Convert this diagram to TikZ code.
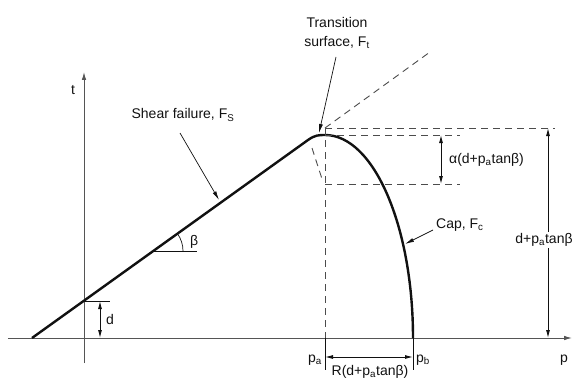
\documentclass[tikz,border=0pt]{standalone}
\usepackage{fontspec}
\setmainfont{Liberation Sans}
\usetikzlibrary{arrows.meta,calc,positioning}
\definecolor{ink}{HTML}{111111}
\definecolor{axisgray}{HTML}{555555}
\tikzset{
  font=\fontsize{14}{19}\selectfont,
  axis/.style={line width=.9pt,draw=axisgray,-{Latex[length=8pt,width=4.5pt]}},
  surface/.style={line width=2.4pt,draw=ink,line join=round},
  guide/.style={dash pattern=on 7pt off 5pt,line width=.9pt,draw=ink!75},
  dim/.style={{Latex[length=8pt,width=4pt]}-{Latex[length=8pt,width=4pt]},line width=.9pt,draw=ink},
  leader/.style={-{Latex[length=9pt,width=4pt]},line width=.7pt,draw=ink},
  tick/.style={line width=.7pt,draw=ink},
  lbl/.style={inner sep=1pt,text=ink}
}
\begin{document}
\begin{tikzpicture}[x=1pt,y=1pt]
\useasboundingbox (-84,-43) rectangle (489,338);
% axes
\coordinate (pleft) at (-76,0);
\coordinate (pright) at (488,0);
\coordinate (tlow) at (0,-25);
\coordinate (thigh) at (0,266);
\draw[axis] (pleft) -- (pright);
\draw[axis] (tlow) -- (thigh);
\node[lbl] (tlab) at (-11,248) {t};
\node[lbl] (plab) at (480,-22) {p};

% shear line + cap
\coordinate (S0) at (-52,0);
\coordinate (S1) at (224,198);
\coordinate (capTop) at (241,203);
\coordinate (pa) at (241,0);
\coordinate (pb) at (329,0);
\draw[surface] (S0) -- (S1) .. controls (231,203) and (235,203) .. (capTop)
  arc[start angle=90,end angle=0,x radius=88,y radius=203];

% dashed guides
\coordinate (ext0) at (241,210);
\coordinate (ext1) at (346,286);
\coordinate (topR) at (471,210);
\coordinate (capR) at (376,203);
\coordinate (alphaL) at (241,154);
\coordinate (alphaR) at (376,154);
\coordinate (n0) at (228,190);
\coordinate (n1) at (239,156);
\draw[guide] (ext0) -- (ext1);
\draw[guide] (ext0) -- (topR);
\draw[guide] (capTop) -- (capR);
\draw[guide] (alphaL) -- (alphaR);
\draw[guide] (ext0) -- (pa);
\draw[guide] (n0) -- (n1);

% alpha dimension
\coordinate (a0) at (357,203);
\coordinate (a1) at (357,154);
\draw[dim] (a0) -- (a1);
\node[lbl,anchor=west] (alab) at (364,178) {α(d+p\textsubscript{a}tanβ)};

% total height
\coordinate (h0) at (464,210);
\coordinate (h1) at (464,0);
\draw[dim] (h0) -- (h1);
\node[lbl,fill=white] (hlab) at (460,98) {d+p\textsubscript{a}tanβ};

% d
\coordinate (d0) at (0,37);
\coordinate (d1) at (26,37);
\coordinate (d2) at (16,37);
\coordinate (d3) at (16,0);
\draw[tick] (d0) -- (d1);
\draw[dim] (d2) -- (d3);
\node[lbl,anchor=west] (dlab) at (21,19) {d};

% beta
\coordinate (b0) at (69,87);
\coordinate (b1) at (113,87);
\coordinate (b2) at (99,87);
\draw[tick] (b0) -- (b1);
\draw[tick] (b2) arc[start angle=0,end angle=35.6,radius=30];
\node[lbl,anchor=west] (blab) at (105,96) {β};

% p_a, p_b, R
\coordinate (paT) at (241,-32);
\coordinate (pbT) at (329,-32);
\coordinate (r0) at (241,-19);
\coordinate (r1) at (329,-19);
\draw[tick] (pa) -- (paT);
\draw[tick] (pb) -- (pbT);
\draw[dim] (r0) -- (r1);
\node[lbl,anchor=east] (palab) at (239,-22) {p\textsubscript{a}};
\node[lbl,anchor=west] (pblab) at (331,-22) {p\textsubscript{b}};
\node[lbl] (rlab) at (286,-34) {R(d+p\textsubscript{a}tanβ)};

% callouts
\node[lbl] (shearlab) at (99,223) {Shear failure, F\textsubscript{S}};
\coordinate (sh0) at (96,205);
\coordinate (sh1) at (135,138);
\draw[leader] (sh0) -- (sh1);
\node[lbl,align=center] (translab) at (253,305) {Transition\\surface, F\textsubscript{t}};
\coordinate (tr0) at (252,281);
\coordinate (tr1) at (235,205);
\draw[leader] (tr0) -- (tr1);
\node[lbl,anchor=west] (caplab) at (351,113) {Cap, F\textsubscript{c}};
\coordinate (cp0) at (349,108);
\coordinate (cp1) at (321,94);
\draw[leader] (cp0) -- (cp1);
\end{tikzpicture}
\end{document}
